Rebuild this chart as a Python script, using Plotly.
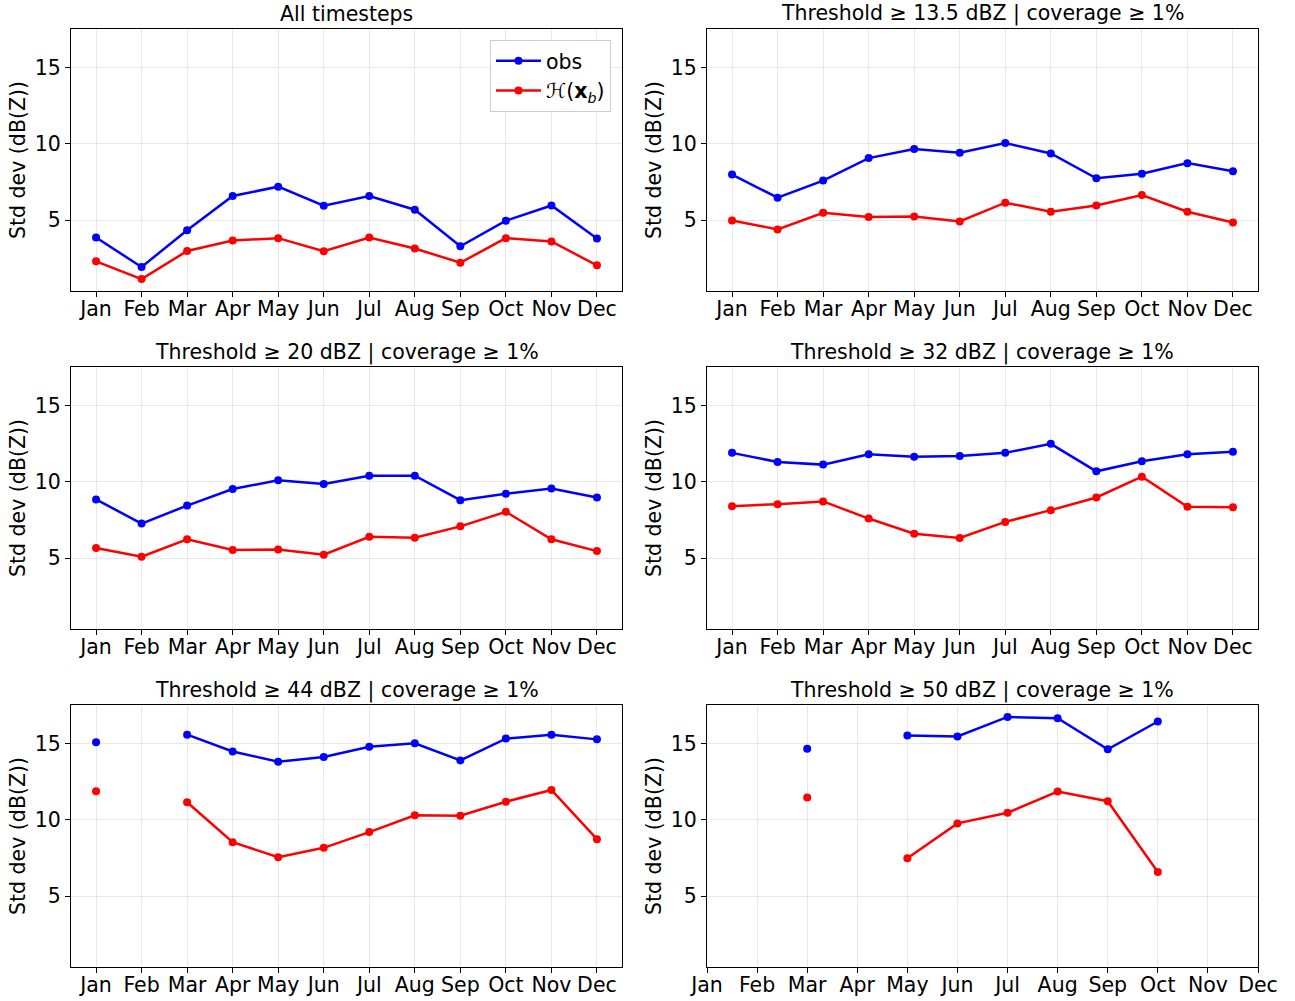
import plotly.graph_objects as go

months = ["Jan", "Feb", "Mar", "Apr", "May", "Jun", "Jul", "Aug", "Sep", "Oct", "Nov", "Dec"]

titles = [
    "All timesteps",
    "Threshold ≥ 13.5 dBZ | coverage ≥ 1%",
    "Threshold ≥ 20 dBZ | coverage ≥ 1%",
    "Threshold ≥ 32 dBZ | coverage ≥ 1%",
    "Threshold ≥ 44 dBZ | coverage ≥ 1%",
    "Threshold ≥ 50 dBZ | coverage ≥ 1%",
]

obs_all = [3.86, 1.93, 4.34, 6.58, 7.19, 5.94, 6.58, 5.68, 3.29, 4.96, 5.96, 3.79]
hxb_all = [2.30, 1.14, 2.98, 3.66, 3.82, 2.96, 3.86, 3.14, 2.21, 3.82, 3.60, 2.04]

obs_135 = [7.98, 6.47, 7.59, 9.06, 9.65, 9.41, 10.04, 9.36, 7.74, 8.03, 8.73, 8.20]
hxb_135 = [4.98, 4.39, 5.48, 5.20, 5.24, 4.91, 6.14, 5.55, 5.96, 6.64, 5.55, 4.85]

obs_20 = [8.84, 7.26, 8.44, 9.52, 10.09, 9.85, 10.39, 10.39, 8.79, 9.21, 9.56, 8.97]
hxb_20 = [5.66, 5.09, 6.23, 5.53, 5.57, 5.22, 6.40, 6.34, 7.08, 8.03, 6.23, 5.46]

obs_32 = [11.89, 11.29, 11.12, 11.80, 11.64, 11.69, 11.89, 12.48, 10.68, 11.34, 11.80, 11.97]
hxb_32 = [8.40, 8.53, 8.71, 7.59, 6.60, 6.32, 7.37, 8.14, 8.97, 10.33, 8.36, 8.33]

obs_44 = [15.07, None, 15.57, 14.47, 13.79, 14.10, 14.78, 15.00, 13.88, 15.31, 15.57, 15.26]
hxb_44 = [11.86, None, 11.14, 8.53, 7.54, 8.16, 9.19, 10.29, 10.26, 11.18, 11.95, 8.73]

obs_50 = [None, None, 14.65, None, 15.52, 15.45, 16.73, 16.64, 14.61, 16.43, None, None]
hxb_50 = [None, None, 11.45, None, 7.48, 9.76, 10.46, 11.84, 11.21, 6.58, None, None]

panels = [
    (obs_all, hxb_all),
    (obs_135, hxb_135),
    (obs_20, hxb_20),
    (obs_32, hxb_32),
    (obs_44, hxb_44),
    (obs_50, hxb_50),
]

W, H = 1295, 1001
xdom = [(71 / W, 622 / W), (707 / W, 1258 / W)]
ydom = [(1 - 291 / H, 1 - 29 / H), (1 - 629 / H, 1 - 367 / H), (1 - 967 / H, 1 - 705 / H)]

FONT = "DejaVu Sans, Liberation Sans, sans-serif"
FS = 20.5
GRID = "#e8e8e8"

fig = go.Figure()
xs = list(range(12))

layout = dict(
    width=W, height=H,
    margin=dict(l=0, r=0, t=0, b=0, autoexpand=False),
    paper_bgcolor="white", plot_bgcolor="white",
    font=dict(family=FONT, size=FS, color="black"),
    legend=dict(
        x=611 / W, y=1 - 40 / H, xanchor="right", yanchor="top",
        bgcolor="white", bordercolor="#cccccc", borderwidth=1,
        font=dict(size=FS), itemwidth=45, tracegroupgap=0,
    ),
    annotations=[],
)

for i, (obs, hxb) in enumerate(panels):
    r, c = divmod(i, 2)
    n = "" if i == 0 else str(i + 1)
    xa, ya = "x" + n, "y" + n
    fig.add_trace(go.Scatter(
        x=xs, y=obs, mode="lines+markers", name="obs",
        line=dict(color="blue", width=2.5), marker=dict(color="blue", size=8),
        connectgaps=False, showlegend=(i == 0), xaxis=xa, yaxis=ya,
    ))
    fig.add_trace(go.Scatter(
        x=xs, y=hxb, mode="lines+markers", name="ℋ(<b>x</b><sub><i>b</i></sub>)",
        line=dict(color="red", width=2.5), marker=dict(color="red", size=8),
        connectgaps=False, showlegend=(i == 0), xaxis=xa, yaxis=ya,
    ))
    xr = [0, 11] if i == 5 else [-0.55, 11.55]
    layout["xaxis" + n] = dict(
        domain=xdom[c], anchor=ya, range=xr, automargin=False,
        tickmode="array", tickvals=xs, ticktext=months,
        showgrid=True, gridcolor=GRID, gridwidth=1,
        showline=True, linecolor="black", linewidth=1.2, mirror=True,
        ticks="outside", ticklen=5, tickcolor="black",
        tickfont=dict(size=FS), zeroline=False, ticklabelstandoff=-6,
    )
    layout["yaxis" + n] = dict(
        domain=ydom[r], anchor=xa, range=[0.36, 17.51], automargin=False,
        tickmode="array", tickvals=[5, 10, 15],
        showgrid=True, gridcolor=GRID, gridwidth=1,
        showline=True, linecolor="black", linewidth=1.2, mirror=True,
        ticks="outside", ticklen=5, tickcolor="black",
        tickfont=dict(size=FS), zeroline=False,
        title=dict(text="Std dev (dB(Z))", font=dict(size=FS), standoff=3),
    )
    layout["annotations"].append(dict(
        text=titles[i], xref="paper", yref="paper",
        x=(xdom[c][0] + xdom[c][1]) / 2, y=ydom[r][1] + 15 / H,
        xanchor="center", yanchor="middle", showarrow=False,
        font=dict(size=FS, family=FONT),
    ))

fig.update_layout(**layout)
fig.write_html("out.html")
